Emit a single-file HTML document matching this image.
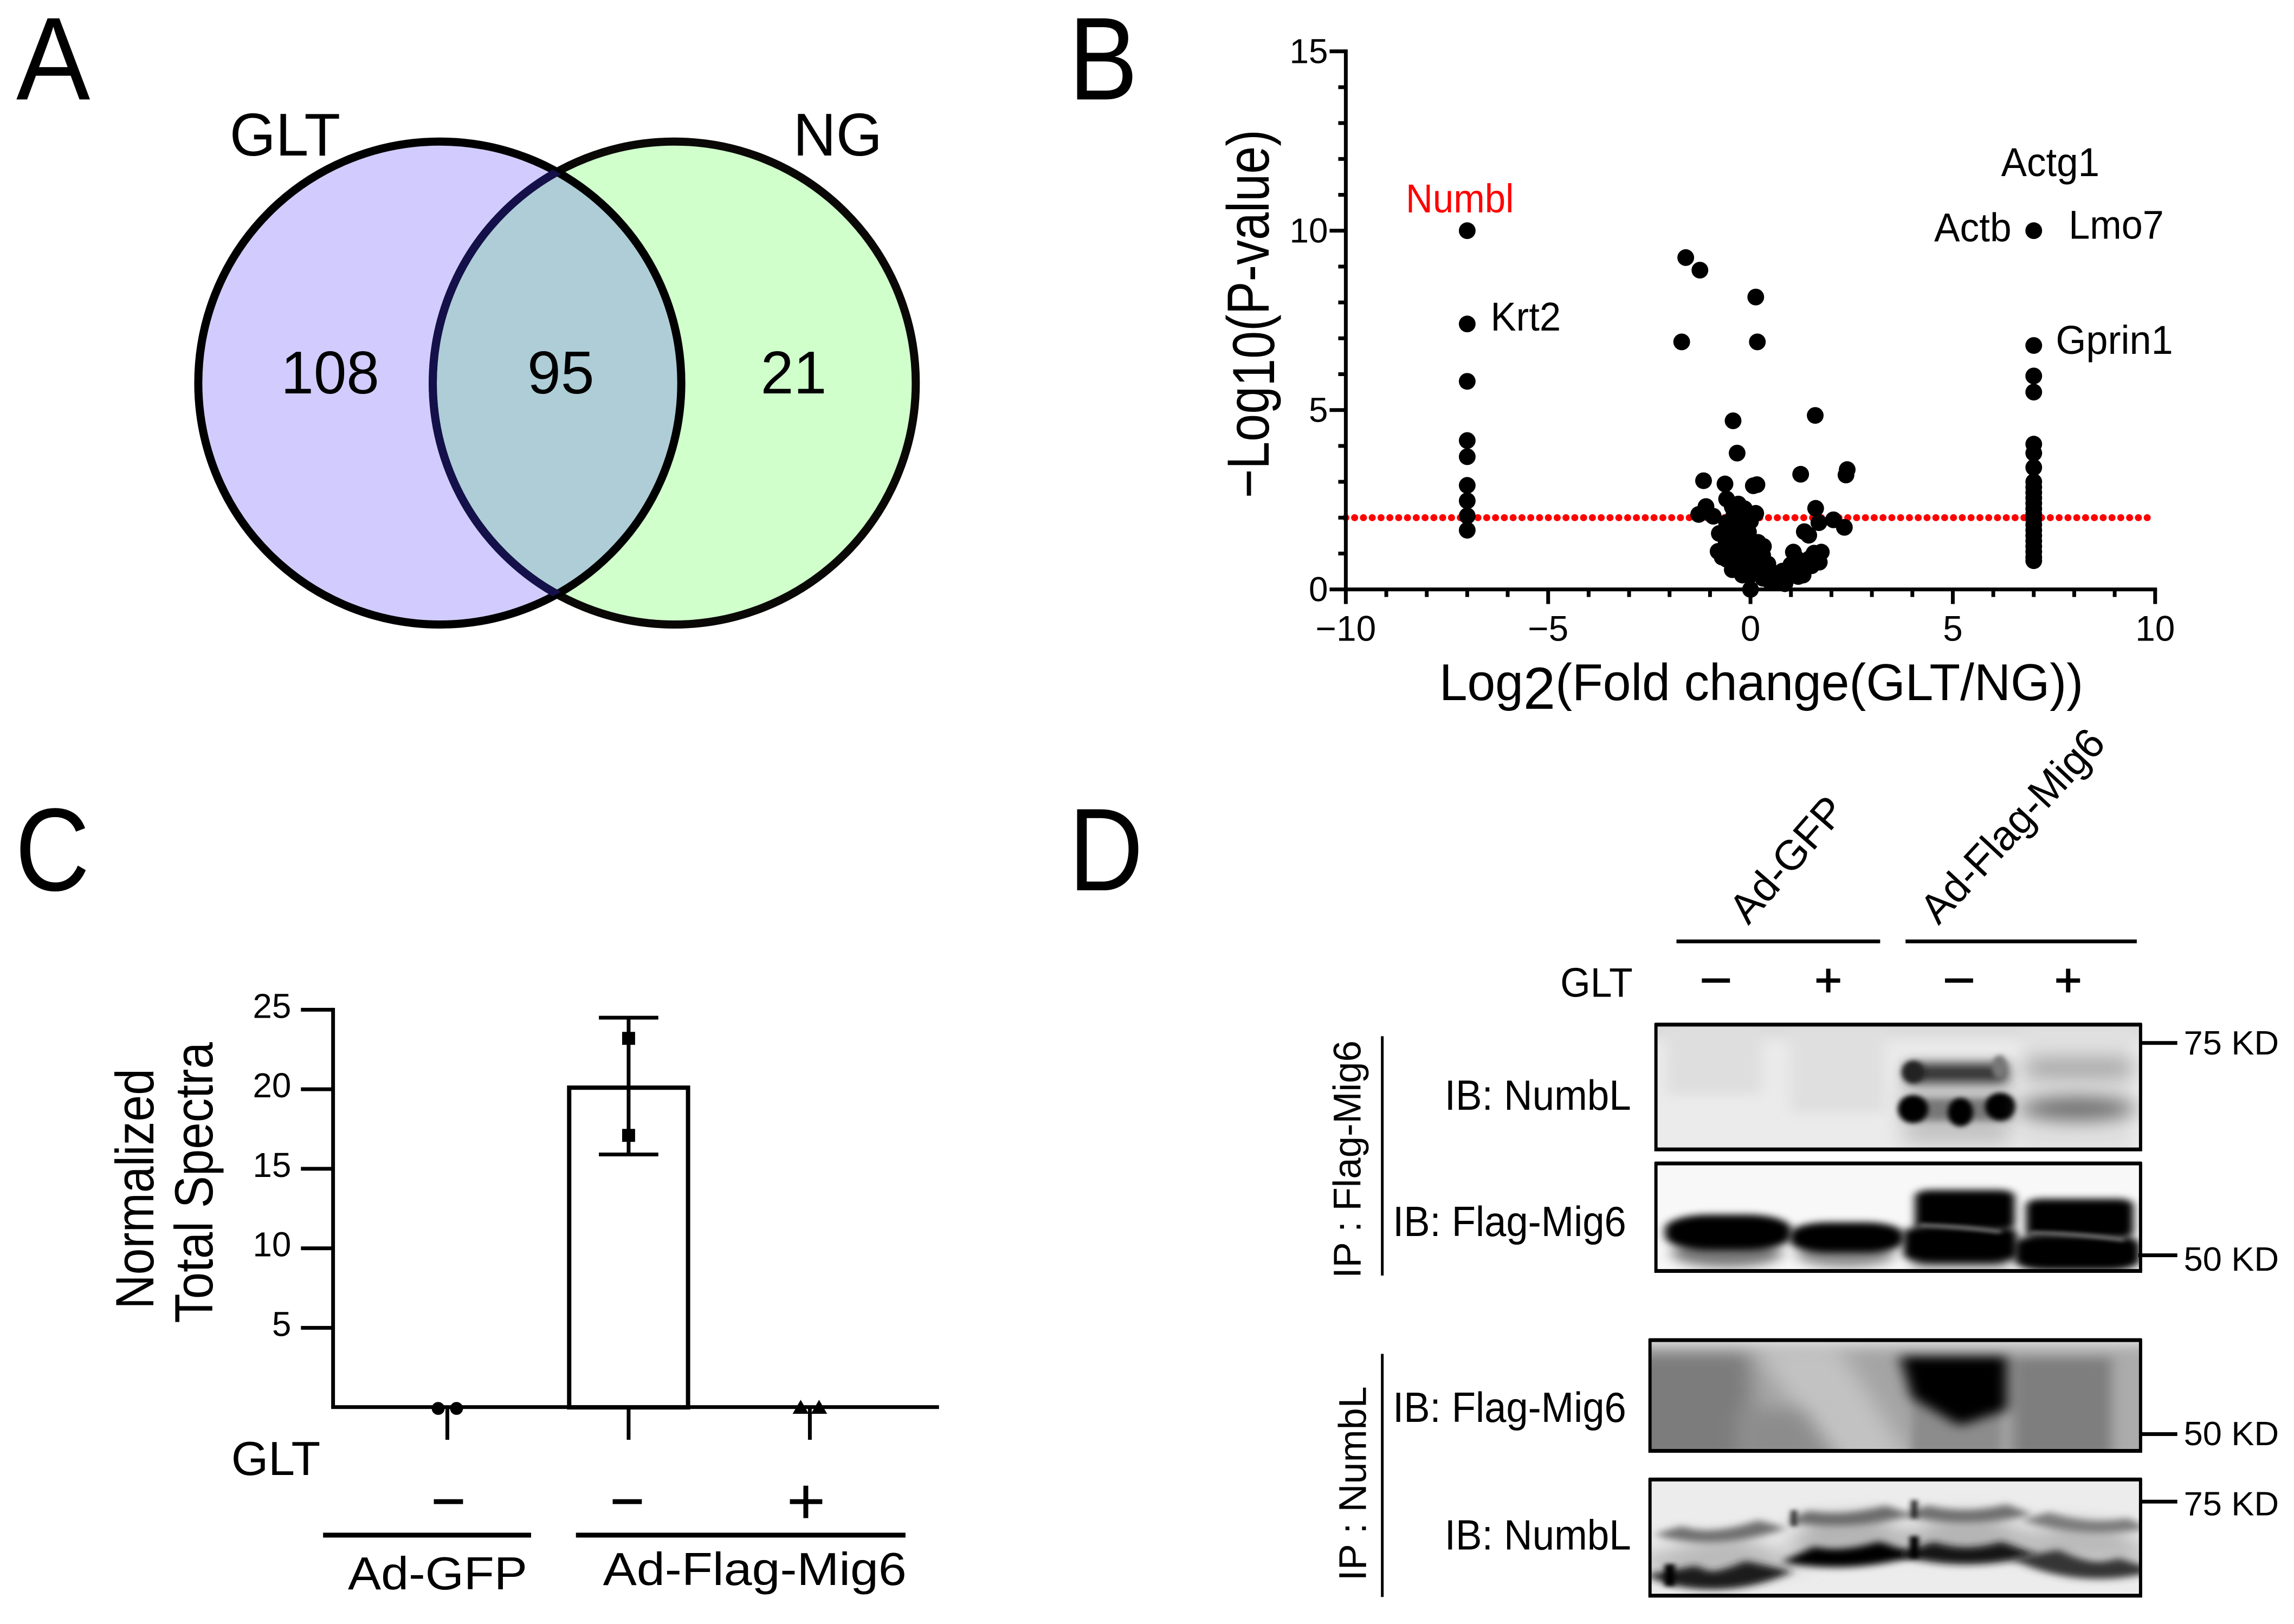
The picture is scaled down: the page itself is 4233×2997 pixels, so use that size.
<!DOCTYPE html>
<html lang="en">
<head>
<meta charset="utf-8">
<title>Mig6 NumbL proteomics figure</title>
<style>
html,body{margin:0;padding:0;background:#fff;}
svg{display:block;}
text{font-family:"Liberation Sans",Arial,sans-serif;fill:#000;}
</style>
</head>
<body>
<svg id="fig" xmlns="http://www.w3.org/2000/svg" width="4233" height="2997" viewBox="0 0 4246 3006" preserveAspectRatio="none">
<defs>
<clipPath id="clipL"><circle cx="814" cy="709" r="447"/></clipPath>
<filter id="b3" filterUnits="userSpaceOnUse" x="0" y="0" width="2000" height="2000"><feGaussianBlur stdDeviation="4 11"/></filter>
<filter id="b6" filterUnits="userSpaceOnUse" x="0" y="0" width="2000" height="2000"><feGaussianBlur stdDeviation="7 18"/></filter>
<filter id="b10" filterUnits="userSpaceOnUse" x="0" y="0" width="2000" height="2000"><feGaussianBlur stdDeviation="11 28"/></filter>
<filter id="b16" filterUnits="userSpaceOnUse" x="0" y="0" width="2000" height="2000"><feGaussianBlur stdDeviation="18 44"/></filter>
<filter id="b26" filterUnits="userSpaceOnUse" x="0" y="0" width="2000" height="2000"><feGaussianBlur stdDeviation="30 70"/></filter>
</defs>
<rect width="4246" height="3006" fill="#fff"/>

<text x="30" y="184" font-size="218" textLength="137" lengthAdjust="spacingAndGlyphs">A</text>
<text x="1978" y="184" font-size="218" textLength="128" lengthAdjust="spacingAndGlyphs">B</text>
<text x="28" y="1648" font-size="218" textLength="138" lengthAdjust="spacingAndGlyphs">C</text>
<text x="1978" y="1648" font-size="218" textLength="138" lengthAdjust="spacingAndGlyphs">D</text>

<!-- Panel A: Venn -->
<g>
<circle cx="814" cy="709" r="447" fill="#d1ccfd"/>
<circle cx="1248" cy="709" r="447" fill="#d0ffcc"/>
<circle cx="1248" cy="709" r="447" fill="#aecdd7" clip-path="url(#clipL)"/>
<circle cx="1248" cy="709" r="447" fill="none" stroke="#0a0806" stroke-width="15"/>
<circle cx="814" cy="709" r="447" fill="none" stroke="#000" stroke-width="15"/>
<circle cx="1248" cy="709" r="447" fill="none" stroke="#14104a" stroke-width="15" clip-path="url(#clipL)"/>
<text x="425" y="288" font-size="112" textLength="205" lengthAdjust="spacingAndGlyphs">GLT</text>
<text x="1468" y="288" font-size="112" textLength="165" lengthAdjust="spacingAndGlyphs">NG</text>
<text x="520" y="728" font-size="112" textLength="182" lengthAdjust="spacingAndGlyphs">108</text>
<text x="976" y="728" font-size="112" textLength="124" lengthAdjust="spacingAndGlyphs">95</text>
<text x="1408" y="728" font-size="112" textLength="122" lengthAdjust="spacingAndGlyphs">21</text>
</g>

<!-- Panel B: volcano -->
<g id="volcano"></g>
<text transform="translate(2348 922) rotate(-90)" font-size="110" textLength="682" lengthAdjust="spacingAndGlyphs">−Log<tspan dy="10">10</tspan><tspan dy="-10">(P-value)</tspan></text>
<text x="2664" y="1296" font-size="96" textLength="1192" lengthAdjust="spacingAndGlyphs">Log<tspan dy="16" font-size="110">2</tspan><tspan dy="-16">(Fold change(GLT/NG))</tspan></text>
<text x="2602" y="393" font-size="74" textLength="200" lengthAdjust="spacingAndGlyphs" style="fill:#f00">Numbl</text>
<text x="3704" y="326" font-size="74" textLength="182" lengthAdjust="spacingAndGlyphs">Actg1</text>
<text x="3580" y="447" font-size="74" textLength="143" lengthAdjust="spacingAndGlyphs">Actb</text>
<text x="3829" y="442" font-size="74" textLength="176" lengthAdjust="spacingAndGlyphs">Lmo7</text>
<text x="2759" y="612" font-size="74" textLength="130" lengthAdjust="spacingAndGlyphs">Krt2</text>
<text x="3805" y="655" font-size="74" textLength="217" lengthAdjust="spacingAndGlyphs">Gprin1</text>

<!-- Panel C: bars -->
<g id="spectra"></g>
<text transform="translate(284 2423) rotate(-90)" font-size="100" textLength="445" lengthAdjust="spacingAndGlyphs">Normalized</text>
<text transform="translate(393 2449) rotate(-90)" font-size="100" textLength="520" lengthAdjust="spacingAndGlyphs">Total Spectra</text>
<text x="428" y="2730" font-size="88" textLength="165" lengthAdjust="spacingAndGlyphs">GLT</text>
<rect x="803" y="2775" width="54" height="9"/>
<rect x="1134" y="2775" width="54" height="9"/>
<rect x="1462" y="2775" width="60" height="9"/>
<rect x="1487" y="2750" width="9" height="60"/>
<rect x="598" y="2837" width="385" height="9"/>
<rect x="1066" y="2837" width="610" height="9"/>
<text x="644" y="2942" font-size="86" textLength="332" lengthAdjust="spacingAndGlyphs">Ad-GFP</text>
<text x="1116" y="2934" font-size="86" textLength="562" lengthAdjust="spacingAndGlyphs">Ad-Flag-Mig6</text>

<!-- Panel D header -->
<g>
<text transform="translate(3236 1714) rotate(-49)" font-size="78" textLength="280" lengthAdjust="spacingAndGlyphs">Ad-GFP</text>
<text transform="translate(3588 1714) rotate(-47)" font-size="78" textLength="458" lengthAdjust="spacingAndGlyphs">Ad-Flag-Mig6</text>
<rect x="3103" y="1739" width="377" height="7"/>
<rect x="3527" y="1739" width="428" height="7"/>
<text x="2888" y="1845" font-size="76" textLength="134" lengthAdjust="spacingAndGlyphs">GLT</text>
<rect x="3150" y="1811" width="52" height="8"/>
<rect x="3362" y="1811" width="44" height="8"/>
<rect x="3380" y="1793" width="8" height="44"/>
<rect x="3600" y="1811" width="52" height="8"/>
<rect x="3806" y="1811" width="44" height="8"/>
<rect x="3824" y="1793" width="8" height="44"/>
</g>

<!-- Blot 1 -->
<g>
<svg x="3063" y="1893" width="901" height="238" viewBox="556 227 771 633" preserveAspectRatio="none">
<rect x="556" y="227" width="771" height="633" fill="#ebebeb"/>
<rect x="500" y="170" width="880" height="120" fill="#d6d6d6" filter="url(#b16)"/>
<rect x="575" y="250" width="150" height="330" fill="#dedede" filter="url(#b10)"/>
<rect x="770" y="250" width="150" height="420" fill="#dfdfdf" filter="url(#b10)"/>
<rect x="1140" y="250" width="170" height="600" fill="#e0e0e0" filter="url(#b10)"/>
<rect x="950" y="530" width="170" height="300" fill="#c4c4c4" filter="url(#b16)"/>
<rect x="955" y="425" width="160" height="100" fill="#333" filter="url(#b10)"/>
<ellipse cx="965" cy="470" rx="18" ry="56" fill="#222" filter="url(#b3)"/>
<ellipse cx="1102" cy="445" rx="12" ry="58" fill="#777" filter="url(#b3)"/>
<rect x="950" y="600" width="170" height="110" fill="#777" filter="url(#b6)"/>
<ellipse cx="965" cy="652" rx="24" ry="68" fill="#000" filter="url(#b3)"/>
<ellipse cx="1040" cy="668" rx="20" ry="70" fill="#000" filter="url(#b3)"/>
<ellipse cx="1103" cy="640" rx="24" ry="68" fill="#000" filter="url(#b3)"/>
<rect x="1145" y="400" width="165" height="100" fill="#a8a8a8" filter="url(#b16)"/>
<ellipse cx="1225" cy="650" rx="92" ry="60" fill="#707070" filter="url(#b16)"/>
</svg>
<rect x="3065" y="1897" width="897" height="231" fill="none" stroke="#000" stroke-width="6"/>
<rect x="3063" y="1893" width="901" height="7"/>
<rect x="3063" y="2124" width="901" height="7"/>
</g>

<!-- Blot 2 -->
<g>
<svg x="3063" y="2150" width="901" height="206" viewBox="556 897 771 551" preserveAspectRatio="none">
<rect x="556" y="897" width="771" height="551" fill="#f8f8f8"/>
<ellipse cx="670" cy="1350" rx="88" ry="70" fill="#777" filter="url(#b10)"/>
<ellipse cx="858" cy="1355" rx="78" ry="65" fill="#888" filter="url(#b10)"/>
<rect x="965" y="1330" width="150" height="90" fill="#777" filter="url(#b10)"/>
<rect x="572" y="1160" width="200" height="175" rx="70" ry="70" fill="#000" filter="url(#b6)"/>
<rect x="770" y="1198" width="180" height="150" rx="60" ry="60" fill="#000" filter="url(#b6)"/>
<rect x="968" y="1038" width="158" height="200" rx="24" ry="30" fill="#000" filter="url(#b6)"/>
<rect x="1144" y="1082" width="170" height="195" rx="24" ry="30" fill="#000" filter="url(#b6)"/>
<rect x="950" y="1212" width="180" height="185" rx="50" ry="40" fill="#000" filter="url(#b6)"/>
<rect x="1126" y="1258" width="198" height="178" rx="50" ry="50" fill="#000" filter="url(#b6)"/>
<path d="M975 1212 Q1040 1218 1105 1245" fill="none" stroke="#888" stroke-width="16" filter="url(#b3)"/>
<path d="M1150 1250 Q1220 1252 1300 1285" fill="none" stroke="#888" stroke-width="16" filter="url(#b3)"/>
</svg>
<rect x="3065" y="2154" width="897" height="199" fill="none" stroke="#000" stroke-width="6"/>
<rect x="3063" y="2150" width="901" height="7"/>
<rect x="3063" y="2349" width="901" height="7"/>
</g>

<!-- Blot 3 -->
<g>
<svg x="3052" y="2477" width="912" height="212" viewBox="550 183 777 572" preserveAspectRatio="none">
<rect x="550" y="183" width="777" height="572" fill="#a4a4a4"/>
<rect x="480" y="250" width="230" height="580" fill="#7c7c7c" filter="url(#b16)"/>
<polygon points="715,230 850,230 970,830 850,830" fill="#c2c2c2" filter="url(#b16)"/>
<polygon points="690,540 790,540 850,830 690,830" fill="#8c8c8c" filter="url(#b16)"/>
<rect x="965" y="300" width="140" height="530" fill="#8c8c8c" filter="url(#b6)"/>
<rect x="1125" y="280" width="155" height="550" fill="#7e7e7e" filter="url(#b10)"/>
<rect x="1290" y="260" width="80" height="570" fill="#acacac" filter="url(#b10)"/>
<polygon points="945,270 1115,270 1115,540 1040,620 965,480" fill="#000" filter="url(#b10)"/>
<rect x="480" y="100" width="960" height="110" fill="#f6f6f6" filter="url(#b16)"/>
</svg>
<rect x="3054" y="2481" width="908" height="205" fill="none" stroke="#000" stroke-width="6"/>
<rect x="3052" y="2477" width="912" height="7"/>
<rect x="3052" y="2682" width="912" height="7"/>
</g>

<!-- Blot 4 -->
<g>
<svg x="3052" y="2735" width="912" height="222" viewBox="550 857 778 600" preserveAspectRatio="none">
<rect x="550" y="857" width="778" height="600" fill="#ececec"/>
<path d="M580 1215 Q650 1290 745 1215" fill="none" stroke="#bababa" stroke-width="190" filter="url(#b16)"/>
<path d="M785 1140 Q860 1160 945 1120" fill="none" stroke="#b4b4b4" stroke-width="190" filter="url(#b16)"/>
<path d="M970 1120 Q1050 1170 1135 1120" fill="none" stroke="#b4b4b4" stroke-width="190" filter="url(#b16)"/>
<path d="M1155 1140 Q1240 1210 1320 1180" fill="none" stroke="#bababa" stroke-width="190" filter="url(#b16)"/>
<path d="M580 1120 Q650 1195 745 1090" fill="none" stroke="#707070" stroke-width="60" filter="url(#b6)"/>
<path d="M585 1320 Q650 1430 740 1300" fill="none" stroke="#1c1c1c" stroke-width="92" filter="url(#b6)"/>
<path d="M785 1050 Q860 1095 945 1020" fill="none" stroke="#6c6c6c" stroke-width="64" filter="url(#b6)"/>
<path d="M785 1240 Q860 1290 945 1210" fill="none" stroke="#000" stroke-width="92" filter="url(#b6)"/>
<path d="M970 1020 Q1050 1085 1135 1015" fill="none" stroke="#707070" stroke-width="64" filter="url(#b6)"/>
<path d="M970 1210 Q1050 1285 1135 1210" fill="none" stroke="#161616" stroke-width="86" filter="url(#b6)"/>
<path d="M1160 1050 Q1240 1135 1322 1085" fill="none" stroke="#7c7c7c" stroke-width="60" filter="url(#b6)"/>
<path d="M1160 1240 Q1240 1370 1322 1290" fill="none" stroke="#363636" stroke-width="86" filter="url(#b6)"/>
<rect x="964" y="970" width="10" height="90" fill="#222" filter="url(#b3)"/>
<rect x="962" y="1150" width="14" height="110" fill="#000" filter="url(#b3)"/>
<rect x="575" y="1290" width="16" height="110" fill="#000" filter="url(#b3)"/>
<rect x="774" y="1020" width="10" height="80" fill="#333" filter="url(#b3)"/>
</svg>
<rect x="3054" y="2739" width="908" height="215" fill="none" stroke="#000" stroke-width="6"/>
<rect x="3052" y="2735" width="912" height="7"/>
<rect x="3052" y="2950" width="912" height="7"/>
</g>

<!-- Panel D labels -->
<g>
<text x="2674" y="2054" font-size="78" textLength="345" lengthAdjust="spacingAndGlyphs">IB: NumbL</text>
<text x="2578" y="2288" font-size="78" textLength="432" lengthAdjust="spacingAndGlyphs">IB: Flag-Mig6</text>
<text x="2578" y="2632" font-size="78" textLength="432" lengthAdjust="spacingAndGlyphs">IB: Flag-Mig6</text>
<text x="2674" y="2868" font-size="78" textLength="345" lengthAdjust="spacingAndGlyphs">IB: NumbL</text>
<text transform="translate(2518 2366) rotate(-90)" font-size="72" textLength="440" lengthAdjust="spacingAndGlyphs">IP : Flag-Mig6</text>
<text transform="translate(2528 2926) rotate(-90)" font-size="72" textLength="360" lengthAdjust="spacingAndGlyphs">IP : NumbL</text>
<rect x="2556" y="1918" width="5" height="443"/>
<rect x="2556" y="2506" width="5" height="450"/>
<rect x="3964" y="1927" width="66" height="7"/>
<rect x="3958" y="2320" width="72" height="7"/>
<rect x="3964" y="2651" width="66" height="7"/>
<rect x="3964" y="2776" width="66" height="7"/>
<text x="4042" y="1952" font-size="62" textLength="176" lengthAdjust="spacingAndGlyphs">75 KD</text>
<text x="4042" y="2352" font-size="62" textLength="176" lengthAdjust="spacingAndGlyphs">50 KD</text>
<text x="4042" y="2675" font-size="62" textLength="176" lengthAdjust="spacingAndGlyphs">50 KD</text>
<text x="4042" y="2805" font-size="62" textLength="176" lengthAdjust="spacingAndGlyphs">75 KD</text>
</g>
</svg>

<script>
// ---- Volcano data ----
const leftColumnFold = -7;
const leftColumnP = [10, 7.4, 5.8, 4.15, 3.7, 2.9, 2.47, 2.05, 1.65];
const rightColumnFold = 7;
const rightColumnP = [10, 6.8, 5.95, 5.5, 4.05, 3.8, 3.4, 3.0, 2.85, 2.7, 2.55, 2.4, 2.25, 2.1, 1.95, 1.8, 1.65, 1.5, 1.35, 1.2, 1.05, 0.9, 0.8];
const centerFold = [-1.6,-1.25,0.13,-1.7,0.17,1.6,-0.43,-0.33,1.24,2.39,2.36,-1.16,-0.63,0.07,0.16,-0.59,-0.3,-1.1,-1.28,-0.92,-0.11,0.13,1.61,1.69,2.05,2.32,1.33,1.44,-0.41,-0.29,-0.59,-0.11,-0.77,-0.35,-0.17,-0.8,-0.56,0.19,0.32,-0.59,-0.35,-0.17,0.07,0.19,0.43,0.01,0.31,0.01,-0.23,0,0.67,0.52,0.79,1.18,1.03,1.0,1.06,1.27,1.51,1.57,1.75,1.7,0.79,1.27,0.64,0.43,0.85,0.55,-0.3,-0.2,0,-0.05,-0.45,-0.25,-0.1,-0.4,-0.3,-0.1,0.1,0.25,0.6,0.9,0.3,0.5,0.7,0.9,1.1,1.3,-0.2,-0.45,-0.7,-0.6,-0.3,-0.5,-0.15,0.1,0.3,-0.35,-0.15,-0.45,1.45,1.15,-0.1,0.1,-0.5];
const centerP = [9.25,8.9,8.15,6.9,6.9,4.85,4.7,3.8,3.21,3.34,3.19,3.03,2.94,2.89,2.92,2.52,2.38,2.31,2.09,2.04,2.17,2.12,2.26,1.86,1.94,1.73,1.61,1.51,2.07,1.91,1.86,1.71,1.56,1.61,1.51,1.06,1.11,1.31,1.2,0.84,0.61,1.06,1.01,0.81,0.71,0.41,0.31,1.31,1.31,0,0.21,0.31,0.31,0.36,0.46,0.69,1.04,0.71,0.66,1.01,1.04,0.76,0.51,0.51,0.24,0.41,0.16,0.46,2.2,2.0,1.9,1.6,1.75,1.15,0.85,0.95,0.7,0.5,0.6,0.5,0.3,0.3,0.5,0.2,0.3,0.35,0.5,0.4,0.4,0.55,0.9,1.3,1.4,1.5,1.75,0.9,0.95,2.0,2.25,2.3,0.85,0.85,1.2,1.15,1.2];
const volcanoThreshold = 2;
const volcanoXTicks = [-10,-5,0,5,10];
const volcanoYTicks = [0,5,10,15];
const volcanoXMinor = [-9,-8,-7,-6,-4,-3,-2,-1,1,2,3,4,6,7,8,9];
const volcanoYMinor = [1,2,3,4,6,7,8,9,11,12,13,14];

// ---- Spectra bar data ----
const spectraCategories = ['Ad-GFP GLT-', 'Ad-Flag-Mig6 GLT-', 'Ad-Flag-Mig6 GLT+'];
const spectraMeans = [0, 20.1, 0];
const spectraErrorUp = [0, 4.4, 0];
const spectraErrorDown = [0, 4.2, 0];
const spectraPointsA = [0, 23.2, 0];
const spectraPointsB = [0, 17.1, 0];
const spectraYTicks = [5, 10, 15, 20, 25];

const NS = 'http://www.w3.org/2000/svg';
function mk(tag, attrs, parent) {
  const el = document.createElementNS(NS, tag);
  for (const k in attrs) el.setAttribute(k, attrs[k]);
  parent.appendChild(el);
  return el;
}
function fmt(v) { return v < 0 ? '\u2212' + Math.abs(v) : String(v); }

// ---- Volcano ----
const vg = document.getElementById('volcano');
const vx = v => 3240 + v * 74.9;
const vy = v => 1091 - v * 66.4;

const thresholdLine = mk('line', {x1: vx(-10), x2: vx(10), y1: vy(volcanoThreshold), y2: vy(volcanoThreshold), stroke: '#f00', 'stroke-width': 13, 'stroke-linecap': 'round', 'stroke-dasharray': '0 16.3'}, vg);



volcanoXTicks.forEach(t => {
  const tick = mk('rect', {x: vx(t) - 3.5, y: vy(0), width: 7, height: 27}, vg);
  
  
  const label = mk('text', {x: vx(t), y: 1186, 'font-size': 66, 'text-anchor': 'middle'}, vg);
  
  
  label.textContent = fmt(t);
});
volcanoXMinor.forEach(t => {
  const tick = mk('rect', {x: vx(t) - 3.5, y: vy(0), width: 7, height: 14}, vg);
  
  
});
volcanoYTicks.forEach(t => {
  const tick = mk('rect', {x: vx(-10) - 30, y: vy(t) - 3.5, width: 30, height: 7}, vg);
  
  
  const label = mk('text', {x: vx(-10) - 33, y: vy(t) + 22, 'font-size': 64, 'text-anchor': 'end'}, vg);
  
  
  label.textContent = fmt(t);
});
volcanoYMinor.forEach(t => {
  const tick = mk('rect', {x: vx(-10) - 14, y: vy(t) - 3.5, width: 14, height: 7}, vg);
  
  
});
const vAxisY = mk('rect', {x: vx(-10) - 3.5, y: vy(15) - 3.5, width: 7, height: vy(0) - vy(15) + 7}, vg);


const vAxisX = mk('rect', {x: vx(-10) - 3.5, y: vy(0) - 3.5, width: vx(10) - vx(-10) + 7, height: 7}, vg);



leftColumnP.forEach(p => {
  const dot = mk('circle', {cx: vx(leftColumnFold), cy: vy(p), r: 15.5}, vg);
  
  
});
rightColumnP.forEach(p => {
  const dot = mk('circle', {cx: vx(rightColumnFold), cy: vy(p), r: 15.5}, vg);
  
  
});
centerFold.forEach((f, i) => {
  const dot = mk('circle', {cx: vx(f), cy: vy(centerP[i]), r: 15.5}, vg);
  
  
});

// ---- Spectra bars ----
const sg = document.getElementById('spectra');
const sx = i => 828 + i * 335.5;
const sy = v => 2605 - v * 29.44;
const sAxisLeft = 617;
const sAxisRight = 1742;

spectraYTicks.forEach(t => {
  const tick = mk('rect', {x: sAxisLeft - 60, y: sy(t) - 3.5, width: 60, height: 7}, sg);
  
  
  const label = mk('text', {x: sAxisLeft - 78, y: sy(t) + 15, 'font-size': 64, 'text-anchor': 'end'}, sg);
  
  
  label.textContent = t;
});
const sAxisY = mk('rect', {x: sAxisLeft - 4, y: sy(25) - 3.5, width: 7, height: sy(0) - sy(25) + 3.5}, sg);



spectraCategories.forEach((c, i) => {
  const tick = mk('rect', {x: sx(i) - 3.5, y: sy(0), width: 7, height: 60}, sg);
  
  
  if (spectraMeans[i] > 0) {
    const bar = mk('rect', {x: sx(i) - 110, y: sy(spectraMeans[i]), width: 220, height: sy(0) - sy(spectraMeans[i]), fill: '#fff', stroke: '#000', 'stroke-width': 8}, sg);
    
    
    const yTop = sy(spectraMeans[i] + spectraErrorUp[i]);
    const yBot = sy(spectraMeans[i] - spectraErrorDown[i]);
    const stem = mk('rect', {x: sx(i) - 3.5, y: yTop, width: 7, height: yBot - yTop}, sg);
    
    
    const capTop = mk('rect', {x: sx(i) - 55, y: yTop - 3.5, width: 110, height: 7}, sg);
    
    
    const capBot = mk('rect', {x: sx(i) - 55, y: yBot - 3.5, width: 110, height: 7}, sg);
    
    
    [spectraPointsA[i], spectraPointsB[i]].forEach(v => {
      const sq = mk('rect', {x: sx(i) - 12, y: sy(v) - 12, width: 24, height: 24}, sg);
      
      
    });
  }
});
const sAxisX = mk('rect', {x: sAxisLeft - 4, y: sy(0) - 4, width: sAxisRight - sAxisLeft, height: 7}, sg);



[spectraPointsA[0], spectraPointsB[0]].forEach((v, k) => {
  const pt = mk('circle', {cx: sx(0) + (k ? 17 : -17), cy: sy(v) + 2, r: 12}, sg);
  
  
});
[spectraPointsA[2], spectraPointsB[2]].forEach((v, k) => {
  const cx = sx(2) + (k ? 17 : -17);
  const cy = sy(v);
  const pt = mk('path', {d: 'M' + (cx - 15) + ' ' + (cy + 12) + 'L' + cx + ' ' + (cy - 14) + 'L' + (cx + 15) + ' ' + (cy + 12) + 'Z'}, sg);
  
  
});
</script>
</body>
</html>
